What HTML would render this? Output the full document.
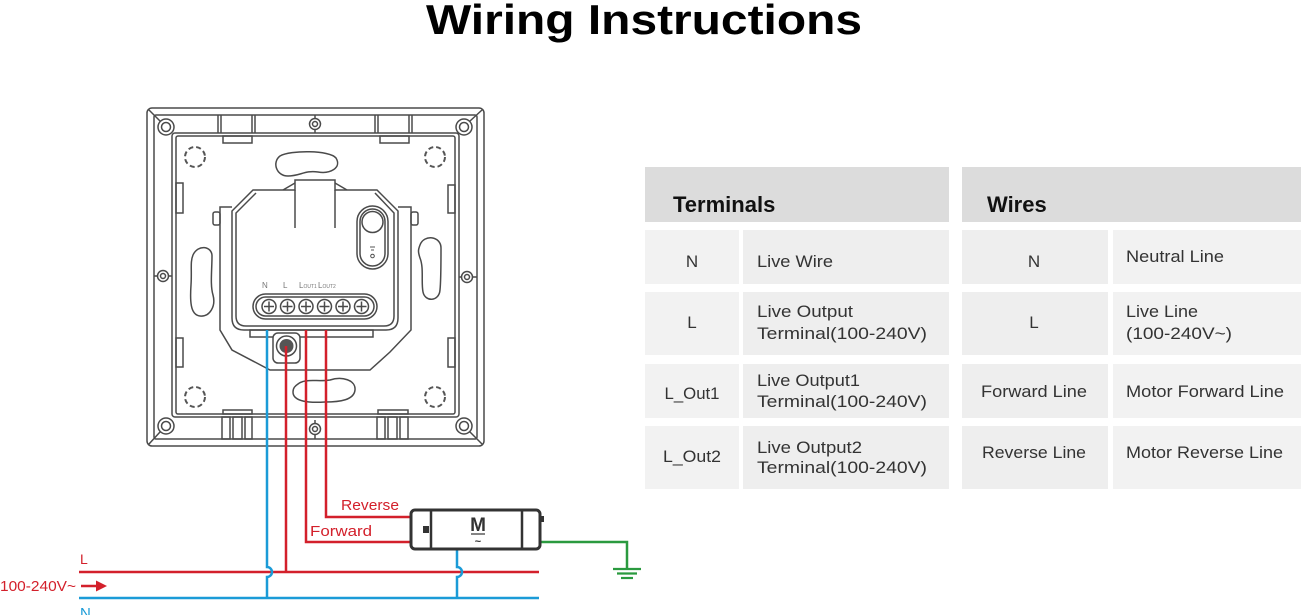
<!DOCTYPE html>
<html><head><meta charset="utf-8"><style>
html,body{margin:0;padding:0;background:#fff;width:1301px;height:615px;overflow:hidden}
svg{display:block}
text{font-family:"Liberation Sans",Arial,sans-serif}
</style></head><body>
<svg width="1301" height="615" viewBox="0 0 1301 615" xmlns="http://www.w3.org/2000/svg">
<!-- Title -->
<text x="644" y="34" text-anchor="middle" font-size="42" font-weight="bold" fill="#000" textLength="436" lengthAdjust="spacingAndGlyphs">Wiring Instructions</text>

<!-- Device plate -->
<g fill="none" stroke="#4a4a4a" stroke-width="1.5">
  <rect x="147" y="108" width="337" height="338" rx="5"/>
  <rect x="154" y="115" width="323" height="324" rx="2"/>
  <rect x="172" y="133" width="287" height="284" rx="3"/>
  <rect x="176" y="136" width="279" height="278" rx="2"/>
  <line x1="149" y1="110" x2="160" y2="121"/><circle cx="166" cy="127" r="8" fill="#fff"/><circle cx="166" cy="127" r="4.5"/>
  <line x1="482" y1="110" x2="470" y2="121"/><circle cx="464" cy="127" r="8" fill="#fff"/><circle cx="464" cy="127" r="4.5"/>
  <line x1="149" y1="444" x2="160" y2="432"/><circle cx="166" cy="426" r="8" fill="#fff"/><circle cx="166" cy="426" r="4.5"/>
  <line x1="482" y1="444" x2="470" y2="432"/><circle cx="464" cy="426" r="8" fill="#fff"/><circle cx="464" cy="426" r="4.5"/>
  <line x1="315" y1="115" x2="315" y2="133"/><circle cx="315" cy="124" r="5.5" fill="#fff"/><circle cx="315" cy="124" r="2.5"/>
  <line x1="315" y1="420" x2="315" y2="439"/><circle cx="315" cy="429" r="5.5" fill="#fff"/><circle cx="315" cy="429" r="2.5"/>
  <line x1="154" y1="276" x2="172" y2="276"/><circle cx="163" cy="276" r="5.5" fill="#fff"/><circle cx="163" cy="276" r="2.5"/>
  <line x1="459" y1="277" x2="477" y2="277"/><circle cx="467" cy="277" r="5.5" fill="#fff"/><circle cx="467" cy="277" r="2.5"/>
  <line x1="218" y1="115" x2="218" y2="133"/><line x1="221" y1="115" x2="221" y2="133"/>
  <line x1="252" y1="115" x2="252" y2="133"/><line x1="255" y1="115" x2="255" y2="133"/>
  <rect x="223" y="136" width="29" height="7"/>
  <line x1="375" y1="115" x2="375" y2="133"/><line x1="378" y1="115" x2="378" y2="133"/>
  <line x1="409" y1="115" x2="409" y2="133"/><line x1="412" y1="115" x2="412" y2="133"/>
  <rect x="380" y="136" width="29" height="7"/>
  <rect x="223" y="410" width="29" height="4"/>
  <rect x="222" y="417" width="8" height="22"/><rect x="233" y="417" width="9" height="22"/><rect x="245" y="417" width="7" height="22"/>
  <rect x="378" y="410" width="30" height="4"/>
  <rect x="377" y="417" width="8" height="22"/><rect x="388" y="417" width="9" height="22"/><rect x="400" y="417" width="8" height="22"/>
  <rect x="176" y="183" width="7" height="30"/><rect x="176" y="338" width="7" height="29"/>
  <rect x="448" y="185" width="7" height="28"/><rect x="448" y="338" width="7" height="29"/>
  <path d="M280 156 C290 150 330 150 336 158 C342 168 330 174 318 172 C305 170 300 176 288 176 C276 176 272 162 280 156 Z"/>
  <path d="M298 384 C305 378 318 382 330 380 C342 376 356 380 355 390 C354 400 340 402 325 402 C310 403 293 402 293 392 C293 388 295 386 298 384 Z"/>
  <path d="M193 255 C198 244 212 246 212 256 C212 270 210 285 213 295 C216 306 210 317 200 316 C190 315 190 300 191 285 C192 270 190 262 193 255 Z"/>
  <path d="M420 245 C424 234 441 236 441 248 C441 262 441 280 440 290 C439 302 425 302 423 292 C421 282 424 268 420 258 C418 252 418 250 420 245 Z"/>
</g>
<g fill="none" stroke="#555" stroke-width="2" stroke-dasharray="5 3">
  <circle cx="195" cy="157" r="10"/><circle cx="435" cy="157" r="10"/>
  <circle cx="195" cy="397" r="10"/><circle cx="435" cy="397" r="10"/>
</g>

<!-- Module -->
<g fill="none" stroke="#4a4a4a" stroke-width="1.5">
  <path d="M232 207 L220 207 L220 330 L232 350 L270 370 L370 370 L390 352 L411 330 L411 207 L398 207" fill="#fff"/>
  <rect x="213" y="212" width="7" height="13" rx="2"/>
  <rect x="411" y="212" width="7" height="13" rx="2"/>
  <path d="M253 190 L295 190 L295 180 L335 180 L335 190 L377 190 L398 211 L398 318 Q398 330 386 330 L244 330 Q232 330 232 318 L232 211 Z" fill="#fff"/>
  <path d="M256 193 L236 213 L236 316 Q236 326 246 326 L384 326 Q394 326 394 316 L394 213 L375 193"/>
  <line x1="295" y1="190" x2="295" y2="228"/><line x1="335" y1="190" x2="335" y2="228"/>
  <path d="M283 190 L295 183 M347 190 L335 183"/>
  <rect x="250" y="330" width="123" height="7"/>
  <rect x="253" y="294" width="124" height="25" rx="12.5"/>
  <rect x="256" y="297" width="118" height="19" rx="9.5"/>
  <g>
    <circle cx="269" cy="306.5" r="7"/><circle cx="287.5" cy="306.5" r="7"/><circle cx="306" cy="306.5" r="7"/>
    <circle cx="324.5" cy="306.5" r="7"/><circle cx="343" cy="306.5" r="7"/><circle cx="361.5" cy="306.5" r="7"/>
    <path d="M264 306.5h10M269 301.5v10M282.5 306.5h10M287.5 301.5v10M301 306.5h10M306 301.5v10M319.5 306.5h10M324.5 301.5v10M338 306.5h10M343 301.5v10M356.5 306.5h10M361.5 301.5v10"/>
  </g>
  <rect x="357" y="206" width="31" height="63" rx="15.5"/>
  <rect x="360" y="209" width="25" height="57" rx="12.5"/>
  <circle cx="372.5" cy="222" r="10.5"/>
  <circle cx="372.5" cy="256" r="1.8" stroke-width="1"/>
  <rect x="273" y="333" width="27" height="30" rx="5" fill="#fff"/>
  <circle cx="286.5" cy="346" r="10"/>
  <circle cx="286.5" cy="346" r="7" fill="#555" stroke="none"/>
</g>
<path d="M370 247 h5 M371 250 h3" stroke="#555" stroke-width="1"/>
<text x="262" y="288" font-size="8" fill="#777">N</text>
<text x="283" y="288" font-size="8" fill="#777">L</text>
<text x="299" y="288" font-size="8" fill="#777">L<tspan font-size="5">OUT1</tspan></text>
<text x="318" y="288" font-size="8" fill="#777">L<tspan font-size="5">OUT2</tspan></text>

<!-- Wires -->
<g fill="none" stroke-width="2.5">
  <path d="M79 572 H539" stroke="#d3202b"/>
  <path d="M79 598 H539" stroke="#1b9bd7"/>
  <path d="M267 330 V567 A5 5 0 0 1 267 577 V598" stroke="#1b9bd7"/>
  <path d="M286 346 V572" stroke="#d3202b"/>
  <path d="M306 330 V542 H411" stroke="#d3202b"/>
  <path d="M326 330 V517 H411" stroke="#d3202b"/>
  <path d="M457 550 V567 A5 5 0 0 1 457 577 V598" stroke="#1b9bd7"/>
  <path d="M540 542 H627 V568" stroke="#2a9a3f"/>
  <path d="M81 586 H98" stroke="#d3202b"/>
</g>
<polygon points="96,580.5 107,586 96,591.5" fill="#d3202b"/>
<g stroke="#2a9a3f" stroke-width="2.2">
  <line x1="613" y1="569" x2="641" y2="569"/>
  <line x1="617" y1="573.5" x2="637" y2="573.5"/>
  <line x1="621" y1="578" x2="633" y2="578"/>
</g>

<!-- Motor -->
<rect x="411" y="510" width="129" height="39" rx="4" fill="#fff" stroke="#333" stroke-width="3"/>
<line x1="431" y1="510" x2="431" y2="549" stroke="#333" stroke-width="2.5"/>
<line x1="522" y1="510" x2="522" y2="549" stroke="#333" stroke-width="2.5"/>
<rect x="423" y="526" width="6" height="7" fill="#333"/>
<rect x="540" y="516" width="4" height="6" fill="#333"/>
<text x="478" y="531" text-anchor="middle" font-size="19" font-weight="bold" fill="#333">M</text>
<line x1="471" y1="534" x2="485" y2="534" stroke="#333" stroke-width="1.2"/>
<text x="478" y="545" text-anchor="middle" font-size="11" font-weight="bold" fill="#333">~</text>

<!-- Wire labels -->
<text x="341" y="510" font-size="15" fill="#d3202b" textLength="58" lengthAdjust="spacingAndGlyphs">Reverse</text>
<text x="310" y="536" font-size="15" fill="#d3202b" textLength="62" lengthAdjust="spacingAndGlyphs">Forward</text>
<text x="80" y="564" font-size="14" fill="#d3202b">L</text>
<text x="0" y="591" font-size="15" fill="#d3202b" textLength="76" lengthAdjust="spacingAndGlyphs">100-240V~</text>
<text x="80" y="618" font-size="15" fill="#1b9bd7">N</text>

<!-- Tables -->
<rect x="645" y="167" width="304" height="55" fill="#dcdcdc"/>
<rect x="962" y="167" width="339" height="55" fill="#dcdcdc"/>
<text x="673" y="212" font-size="22" font-weight="bold" fill="#111">Terminals</text>
<text x="987" y="212" font-size="22" font-weight="bold" fill="#111">Wires</text>
<g fill="#f2f2f2">
  <rect x="645" y="230" width="94" height="54"/><rect x="743" y="230" width="206" height="54" fill="#eeeeee"/>
  <rect x="645" y="292" width="94" height="63"/><rect x="743" y="292" width="206" height="63" fill="#eeeeee"/>
  <rect x="645" y="364" width="94" height="54"/><rect x="743" y="364" width="206" height="54" fill="#eeeeee"/>
  <rect x="645" y="426" width="94" height="63"/><rect x="743" y="426" width="206" height="63" fill="#eeeeee"/>
  <rect x="962" y="230" width="146" height="54" fill="#eeeeee"/><rect x="1113" y="230" width="188" height="54"/>
  <rect x="962" y="292" width="146" height="63" fill="#eeeeee"/><rect x="1113" y="292" width="188" height="63"/>
  <rect x="962" y="364" width="146" height="54" fill="#eeeeee"/><rect x="1113" y="364" width="188" height="54"/>
  <rect x="962" y="426" width="146" height="63" fill="#eeeeee"/><rect x="1113" y="426" width="188" height="63"/>
</g>
<g font-size="17" fill="#333">
  <text x="692" y="267" text-anchor="middle">N</text>
  <text x="757" y="267" textLength="76" lengthAdjust="spacingAndGlyphs">Live Wire</text>
  <text x="692" y="328" text-anchor="middle">L</text>
  <text x="757" y="317" textLength="96" lengthAdjust="spacingAndGlyphs">Live Output</text>
  <text x="757" y="339" textLength="170" lengthAdjust="spacingAndGlyphs">Terminal(100-240V)</text>
  <text x="692" y="399" text-anchor="middle" textLength="55" lengthAdjust="spacingAndGlyphs">L_Out1</text>
  <text x="757" y="386" textLength="103" lengthAdjust="spacingAndGlyphs">Live Output1</text>
  <text x="757" y="407" textLength="170" lengthAdjust="spacingAndGlyphs">Terminal(100-240V)</text>
  <text x="692" y="462" text-anchor="middle" textLength="58" lengthAdjust="spacingAndGlyphs">L_Out2</text>
  <text x="757" y="453" textLength="105" lengthAdjust="spacingAndGlyphs">Live Output2</text>
  <text x="757" y="473" textLength="170" lengthAdjust="spacingAndGlyphs">Terminal(100-240V)</text>

  <text x="1034" y="267" text-anchor="middle">N</text>
  <text x="1126" y="262" textLength="98" lengthAdjust="spacingAndGlyphs">Neutral Line</text>
  <text x="1034" y="328" text-anchor="middle">L</text>
  <text x="1126" y="317" textLength="72" lengthAdjust="spacingAndGlyphs">Live Line</text>
  <text x="1126" y="339" textLength="106" lengthAdjust="spacingAndGlyphs">(100-240V~)</text>
  <text x="1034" y="397" text-anchor="middle" textLength="106" lengthAdjust="spacingAndGlyphs">Forward Line</text>
  <text x="1126" y="397" textLength="158" lengthAdjust="spacingAndGlyphs">Motor Forward Line</text>
  <text x="1034" y="458" text-anchor="middle" textLength="104" lengthAdjust="spacingAndGlyphs">Reverse Line</text>
  <text x="1126" y="458" textLength="157" lengthAdjust="spacingAndGlyphs">Motor Reverse Line</text>
</g>
</svg>
</body></html>
